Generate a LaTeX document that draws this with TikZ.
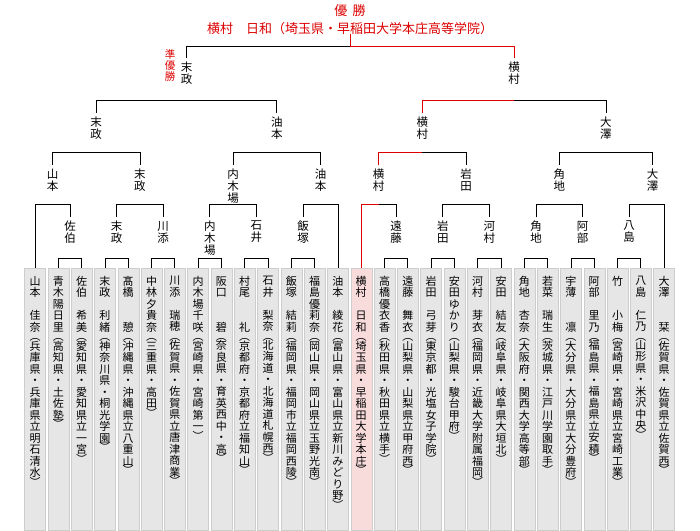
\documentclass[tikz,border=0pt]{standalone}
\usepackage{fontspec}
\setmainfont{Noto Sans CJK JP}
\definecolor{win}{RGB}{220,0,0}
\definecolor{boxg}{RGB}{230,230,230}
\definecolor{boxp}{RGB}{248,220,220}
\definecolor{boxe}{RGB}{205,205,205}
\newdimen\vsskip
\makeatletter
\def\vstack#1{\vbox{\baselineskip=\vsskip\lineskiplimit=-100pt\vs@loop#1\relax}}
\def\vs@loop#1{\ifx\relax#1\else\vs@char{#1}\expandafter\vs@loop\fi}
\def\vs@lp{︵}\def\vs@rp{︶}
\def\vs@char#1{\def\vs@tmp{#1}%
  \ifx\vs@tmp\vs@lp\vskip-0.18\vsskip\hbox to 1em{\hss#1\hss}\vskip-0.18\vsskip
  \else\ifx\vs@tmp\vs@rp\vskip-0.18\vsskip\hbox to 1em{\hss#1\hss}\vskip-0.18\vsskip
  \else\hbox to 1em{\hss#1\hss}\fi\fi}
\makeatother
\def\leaffont{\fontsize{11}{12}\selectfont\vsskip=11.5pt}
\def\labfont{\fontsize{11.5}{12}\selectfont\vsskip=12pt}
\tikzset{
  leaf/.style={draw=boxe,fill=#1,minimum width=21pt,minimum height=262pt,anchor=north,inner sep=0,outer sep=0},
  ltext/.style={anchor=north,inner sep=0,font=\leaffont},
  lab/.style={anchor=north,inner sep=0,outer ysep=4pt,font=\labfont},
  ln/.style={line width=0.7pt,black},
  rl/.style={line width=0.7pt,win},
}
\newcommand\brk[3]{\draw[ln] (#1.north) -- (#1.north |- #3) -- (#2.north |- #3) -- (#2.north);}
\begin{document}
\begin{tikzpicture}[x=1pt,y=-1pt]
\useasboundingbox (0,0) rectangle (700,530);
\foreach \i/\c/\t in {
0/boxg/山本　佳奈︵兵庫県・兵庫県立明石清水︶,
1/boxg/青木陽日里︵高知県・土佐塾︶,
2/boxg/佐伯　希美︵愛知県・愛知県立一宮︶,
3/boxg/末政　利緒︵神奈川県・桐光学園︶,
4/boxg/髙橋　　憩︵沖縄県・沖縄県立八重山︶,
5/boxg/中林夕貴奈︵三重県・高田︶,
6/boxg/川添　瑞穂︵佐賀県・佐賀県立唐津商業︶,
7/boxg/内木場千咲︵宮崎県・宮崎第一︶,
8/boxg/阪口　　碧︵奈良県・育英西中・高︶,
9/boxg/村尾　　礼︵京都府・京都府立福知山︶,
10/boxg/石井　梨奈︵北海道・北海道札幌西︶,
11/boxg/飯塚　結莉︵福岡県・福岡市立福岡西陵︶,
12/boxg/福島優莉奈︵岡山県・岡山県立玉野光南︶,
13/boxg/油本　綾花︵富山県・富山県立新川みどり野︶,
14/boxp/横村　日和︵埼玉県・早稲田大学本庄︶,
15/boxg/高橋優衣香︵秋田県・秋田県立横手︶,
16/boxg/遠藤　舞衣︵山梨県・山梨県立甲府西︶,
17/boxg/岩田　弓芽︵東京都・光塩女子学院︶,
18/boxg/安田ゆかり︵山梨県・駿台甲府︶,
19/boxg/河村　芽衣︵福岡県・近畿大学附属福岡︶,
20/boxg/安田　結友︵岐阜県・岐阜県大垣北︶,
21/boxg/角地　杏奈︵大阪府・関西大学高等部︶,
22/boxg/若菜　瑞生︵茨城県・江戸川学園取手︶,
23/boxg/宇薄　　凛︵大分県・大分県立大分豊府︶,
24/boxg/阿部　里乃︵福島県・福島県立安積︶,
25/boxg/竹　　小梅︵宮崎県・宮崎県立宮崎工業︶,
26/boxg/八島　仁乃︵山形県・米沢中央︶,
27/boxg/大澤　　栞︵佐賀県・佐賀県立佐賀西︶}{
  \node[leaf=\c] (l\i) at ({35+23.3*\i},268) {};
  \node[ltext] (t\i) at ({35+23.3*\i},276) {\expandafter\vstack\expandafter{\t}};
}
\coordinate (y1) at (0,258);
\coordinate (y2) at (0,204);
\coordinate (y3) at (0,152);
\coordinate (y4) at (0,100);
\coordinate (y5) at (0,46);
\node[lab] (a1) at (70,217) {\vstack{佐伯}};
\node[lab] (a2) at (116.6,217) {\vstack{末政}};
\node[lab] (a3) at (163.2,217) {\vstack{川添}};
\node[lab] (a4) at (209.8,217) {\vstack{内木場}};
\node[lab] (a5) at (256.4,217) {\vstack{石井}};
\node[lab] (a6) at (303,217) {\vstack{飯塚}};
\node[lab] (a7) at (396.2,217) {\vstack{遠藤}};
\node[lab] (a8) at (442.8,217) {\vstack{岩田}};
\node[lab] (a9) at (489.4,217) {\vstack{河村}};
\node[lab] (a10) at (536,217) {\vstack{角地}};
\node[lab] (a11) at (582.6,217) {\vstack{阿部}};
\node[lab] (a12) at (629.2,217) {\vstack{八島}};
\node[lab] (b1) at (52.5,165) {\vstack{山本}};
\node[lab] (b2) at (139.9,165) {\vstack{末政}};
\node[lab] (b3) at (233.1,165) {\vstack{内木場}};
\node[lab] (b4) at (320.5,165) {\vstack{油本}};
\node[lab] (b5) at (378.7,165) {\vstack{横村}};
\node[lab] (b6) at (466.1,165) {\vstack{岩田}};
\node[lab] (b7) at (559.3,165) {\vstack{角地}};
\node[lab] (b8) at (652.5,165) {\vstack{大澤}};
\node[lab] (c1) at (96.2,113) {\vstack{末政}};
\node[lab] (c2) at (276.8,113) {\vstack{油本}};
\node[lab] (c3) at (422.4,113) {\vstack{横村}};
\node[lab] (c4) at (605.9,113) {\vstack{大澤}};
\node[lab] (d1) at (186.5,58) {\vstack{末政}};
\node[lab] (d2) at (514.2,58) {\vstack{横村}};
\node[anchor=north,inner sep=0,text=win,font={\fontsize{10.5}{11}\selectfont\vsskip=11.3pt}] (jun) at (170,49) {\vstack{準優勝}};
\node[text=win,font=\fontsize{13}{15}\selectfont,inner sep=0] (yu) at (350,11) {優\hspace{0.4em}勝};
\node[text=win,font=\fontsize{13}{15}\selectfont,inner sep=0,anchor=base] (champ) at (350,33) {横村　日和（埼玉県・早稲田大学本庄高等学院）};
\coordinate (fm) at (350.3,46);
\brk{l1}{l2}{y1} \brk{l3}{l4}{y1} \brk{l5}{l6}{y1} \brk{l7}{l8}{y1}
\brk{l9}{l10}{y1} \brk{l11}{l12}{y1} \brk{l15}{l16}{y1} \brk{l17}{l18}{y1}
\brk{l19}{l20}{y1} \brk{l21}{l22}{y1} \brk{l23}{l24}{y1} \brk{l25}{l26}{y1}
\brk{l0}{a1}{y2} \brk{a2}{a3}{y2} \brk{a4}{a5}{y2} \brk{a6}{l13}{y2}
\brk{a8}{a9}{y2} \brk{a10}{a11}{y2} \brk{a12}{l27}{y2}
\draw[ln] (b5.north |- y2) -- (a7.north |- y2) -- (a7.north);
\draw[rl] (l14.north) -- (l14.north |- y2) -- (b5.north |- y2);
\brk{b1}{b2}{y3} \brk{b3}{b4}{y3} \brk{b7}{b8}{y3}
\draw[ln] (c3.north |- y3) -- (b6.north |- y3) -- (b6.north);
\draw[rl] (b5.north) -- (b5.north |- y3) -- (c3.north |- y3);
\brk{c1}{c2}{y4}
\draw[ln] (d2.north |- y4) -- (c4.north |- y4) -- (c4.north);
\draw[rl] (c3.north) -- (c3.north |- y4) -- (d2.north |- y4);
\draw[ln] (fm) -- (d1.north |- y5) -- (d1.north);
\draw[rl] (fm) -- (d2.north |- y5) -- (d2.north);
\draw[rl] (fm) -- (fm |- champ.south);
\end{tikzpicture}
\end{document}
